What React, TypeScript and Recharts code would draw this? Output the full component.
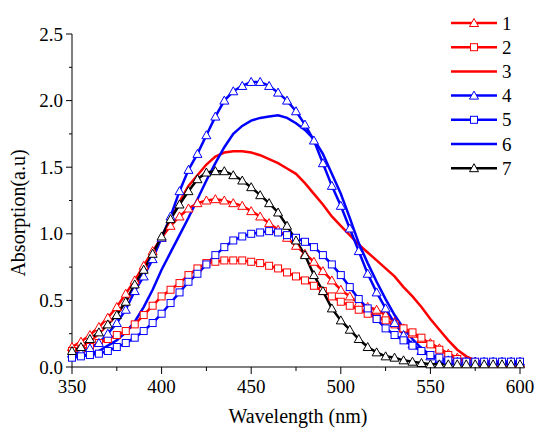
import React from 'react';
import { LineChart, Line, XAxis, YAxis, Legend } from 'recharts';

const wavelengths = [
  350, 355, 360, 365, 370, 375, 380, 385, 390, 395, 400, 405, 410, 415, 420, 425, 430,
  435, 440, 445, 450, 455, 460, 465, 470, 475, 480, 485, 490, 495, 500, 505, 510, 515,
  520, 525, 530, 535, 540, 545, 550, 555, 560, 565, 570, 575, 580, 585, 590, 595, 600,
];

const s1 = [
  0.15, 0.19, 0.24, 0.30, 0.37, 0.45, 0.55, 0.65, 0.76, 0.87, 0.97, 1.06, 1.13, 1.19, 1.23, 1.25, 1.26,
  1.25, 1.23, 1.21, 1.17, 1.13, 1.08, 1.03, 0.97, 0.91, 0.85, 0.79, 0.72, 0.65, 0.58, 0.53, 0.48, 0.45,
  0.43, 0.39, 0.34, 0.29, 0.25, 0.21, 0.18, 0.14, 0.10, 0.07, 0.05, 0.04, 0.03, 0.03, 0.03, 0.03, 0.03,
];
const s2 = [
  0.12, 0.13, 0.15, 0.18, 0.21, 0.24, 0.27, 0.32, 0.39, 0.46, 0.53, 0.58, 0.63, 0.69, 0.74, 0.78, 0.79,
  0.80, 0.80, 0.80, 0.79, 0.78, 0.76, 0.74, 0.71, 0.68, 0.65, 0.61, 0.57, 0.53, 0.49, 0.46, 0.43, 0.40,
  0.37, 0.35, 0.32, 0.29, 0.26, 0.22, 0.17, 0.13, 0.09, 0.06, 0.04, 0.03, 0.03, 0.03, 0.03, 0.03, 0.03,
];
const s3 = [
  0.12, 0.15, 0.19, 0.25, 0.32, 0.40, 0.49, 0.60, 0.72, 0.85, 0.98, 1.11, 1.24, 1.36, 1.44, 1.52, 1.58,
  1.61, 1.62, 1.62, 1.61, 1.59, 1.56, 1.53, 1.49, 1.45, 1.38, 1.30, 1.22, 1.13, 1.06, 0.99, 0.92, 0.86,
  0.80, 0.74, 0.68, 0.60, 0.53, 0.45, 0.36, 0.28, 0.20, 0.13, 0.08, 0.05, 0.03, 0.02, 0.02, 0.02, 0.02,
];
const s4 = [
  0.10, 0.11, 0.14, 0.18, 0.25, 0.33, 0.43, 0.57, 0.68, 0.81, 0.97, 1.13, 1.32, 1.48, 1.60, 1.74, 1.88,
  2.00, 2.07, 2.11, 2.14, 2.14, 2.11, 2.06, 2.00, 1.92, 1.82, 1.70, 1.53, 1.36, 1.21, 1.04, 0.87, 0.70,
  0.56, 0.44, 0.33, 0.24, 0.17, 0.12, 0.08, 0.06, 0.05, 0.04, 0.04, 0.04, 0.04, 0.04, 0.04, 0.04, 0.04,
];
const s5 = [
  0.07, 0.08, 0.09, 0.10, 0.12, 0.15, 0.18, 0.22, 0.27, 0.33, 0.40, 0.48, 0.56, 0.64, 0.70, 0.77, 0.84,
  0.90, 0.95, 0.98, 1.00, 1.01, 1.02, 1.01, 0.99, 0.97, 0.94, 0.90, 0.84, 0.77, 0.69, 0.60, 0.51, 0.44,
  0.36, 0.29, 0.24, 0.20, 0.16, 0.12, 0.09, 0.07, 0.05, 0.04, 0.04, 0.04, 0.04, 0.04, 0.04, 0.04, 0.04,
];
const s6 = [
  0.07, 0.08, 0.10, 0.12, 0.16, 0.20, 0.26, 0.34, 0.45, 0.58, 0.73, 0.86, 0.99, 1.12, 1.26, 1.40, 1.53,
  1.65, 1.75, 1.81, 1.85, 1.87, 1.88, 1.89, 1.87, 1.83, 1.78, 1.71, 1.60, 1.45, 1.30, 1.12, 0.93, 0.78,
  0.64, 0.51, 0.39, 0.29, 0.21, 0.14, 0.09, 0.06, 0.04, 0.03, 0.03, 0.03, 0.03, 0.03, 0.03, 0.03, 0.03,
];
const s7 = [
  0.12, 0.15, 0.21, 0.26, 0.32, 0.39, 0.49, 0.62, 0.73, 0.85, 0.98, 1.11, 1.22, 1.32, 1.41, 1.46, 1.47,
  1.47, 1.44, 1.40, 1.35, 1.29, 1.23, 1.16, 1.06, 0.95, 0.84, 0.69, 0.57, 0.44, 0.35, 0.28, 0.21, 0.15,
  0.11, 0.08, 0.07, 0.05, 0.04, 0.03, 0.02, 0.02, 0.02, 0.02, 0.02, 0.02, 0.02, 0.02, 0.02, 0.02, 0.02,
];

const seriesKeys = ['s1', 's2', 's3', 's4', 's5', 's6', 's7'];
const seriesNames = ['1', '2', '3', '4', '5', '6', '7'];
const seriesColors = ['#ff0000', '#ff0000', '#ff0000', '#0000ff', '#0000ff', '#0000ff', '#000000'];
const seriesMarkers = ['triangle', 'square', 'none', 'triangle', 'square', 'none', 'triangle'];

const xTicks = [350, 375, 400, 425, 450, 475, 500, 525, 550, 575, 600];
const yTicks = [0, 0.25, 0.5, 0.75, 1, 1.25, 1.5, 1.75, 2, 2.25, 2.5];

const allSeries = [s1, s2, s3, s4, s5, s6, s7];
const data = wavelengths.map((w, i) => {
  const row: Record<string, number> = { w };
  seriesKeys.forEach((k, j) => {
    row[k] = allSeries[j][i];
  });
  return row;
});

const FONT = '"Liberation Serif", "Times New Roman", "DejaVu Serif", serif';
const textStyle = { fontFamily: FONT, fontSize: 19 };
const titleStyle = { fontFamily: FONT, fontSize: 20 };

const Marker = ({ type, cx, cy, color }: { type: string; cx: number; cy: number; color: string }) => {
  if (type === 'triangle') {
    return (
      <polygon
        points={`${cx},${cy - 4.5} ${cx - 4.5},${cy + 3.5} ${cx + 4.5},${cy + 3.5}`}
        fill="#fff"
        stroke={color}
        strokeWidth={1}
      />
    );
  }
  if (type === 'square') {
    return <rect x={cx - 3.5} y={cy - 3.5} width={7} height={7} fill="#fff" stroke={color} strokeWidth={1} />;
  }
  return null;
};

const makeDot = (type: string, color: string) => (props: any) => {
  const { cx, cy, index } = props;
  if (type === 'none' || cx == null || cy == null) return <g key={`n${index}`} />;
  return (
    <g key={`m${index}`}>
      <Marker type={type} cx={cx} cy={cy} color={color} />
    </g>
  );
};

const XTick = (props: any) => {
  const { x, y, payload } = props;
  const major = payload.value % 50 === 0;
  return (
    <g>
      <line x1={x} y1={y} x2={x} y2={y + (major ? 7 : 4)} stroke="#000" strokeWidth={1} />
      {major && (
        <text x={x} y={y + 26} textAnchor="middle" style={textStyle} fill="#000">
          {payload.value}
        </text>
      )}
    </g>
  );
};

const YTick = (props: any) => {
  const { x, y, payload } = props;
  const major = Math.round(payload.value * 100) % 50 === 0;
  return (
    <g>
      <line x1={x} y1={y} x2={x - (major ? 6 : 3)} y2={y} stroke="#000" strokeWidth={1} />
      {major && (
        <text x={x - 9} y={y} dy="0.35em" textAnchor="end" style={textStyle} fill="#000">
          {payload.value.toFixed(1)}
        </text>
      )}
    </g>
  );
};

const LegendBox = () => (
  <svg width={90} height={180} style={{ overflow: 'visible', display: 'block' }}>
    {seriesNames.map((name, i) => {
      const cy = 23 + i * 24.2;
      return (
        <g key={name}>
          <line x1={0} y1={cy} x2={46} y2={cy} stroke={seriesColors[i]} strokeWidth={2.5} />
          <Marker type={seriesMarkers[i]} cx={23} cy={cy} color={seriesColors[i]} />
          <text x={51} y={cy} dy="0.35em" style={textStyle} fill="#000">
            {name}
          </text>
        </g>
      );
    })}
  </svg>
);

export default function App() {
  return (
    <div style={{ position: 'absolute', left: 0, top: 0, background: '#fff' }}>
      <LineChart width={536} height={429} data={data} margin={{ top: 34, right: 16, bottom: 0, left: 0 }}>
        <XAxis
          dataKey="w"
          type="number"
          domain={[350, 600]}
          ticks={xTicks}
          interval={0}
          tickLine={false}
          tickSize={0}
          tickMargin={0}
          tick={<XTick />}
          height={62}
          axisLine={{ stroke: '#000', strokeWidth: 1 }}
          label={{
            content: () => (
              <text x={298} y={423} textAnchor="middle" style={titleStyle} fill="#000">
                Wavelength (nm)
              </text>
            ),
          }}
        />
        <YAxis
          type="number"
          domain={[0, 2.5]}
          ticks={yTicks}
          interval={0}
          width={72}
          tickLine={false}
          tickSize={0}
          tickMargin={0}
          tick={<YTick />}
          axisLine={{ stroke: '#000', strokeWidth: 1 }}
          label={{
            content: () => (
              <text
                x={25}
                y={213}
                transform="rotate(-90 25 213)"
                textAnchor="middle"
                style={titleStyle}
                fill="#000"
              >
                Absorption(a.u)
              </text>
            ),
          }}
        />
        <Legend
          layout="vertical"
          align="center"
          verticalAlign="middle"
          content={() => <LegendBox />}
          wrapperStyle={{ position: 'absolute', left: 451, top: 0, width: 90, height: 180, margin: 0 }}
        />
        {seriesKeys.map((k, i) => (
          <Line
            key={k}
            dataKey={k}
            name={seriesNames[i]}
            type="linear"
            stroke={seriesColors[i]}
            strokeWidth={2.5}
            dot={makeDot(seriesMarkers[i], seriesColors[i])}
            activeDot={false}
            isAnimationActive={false}
          />
        ))}
      </LineChart>
    </div>
  );
}
